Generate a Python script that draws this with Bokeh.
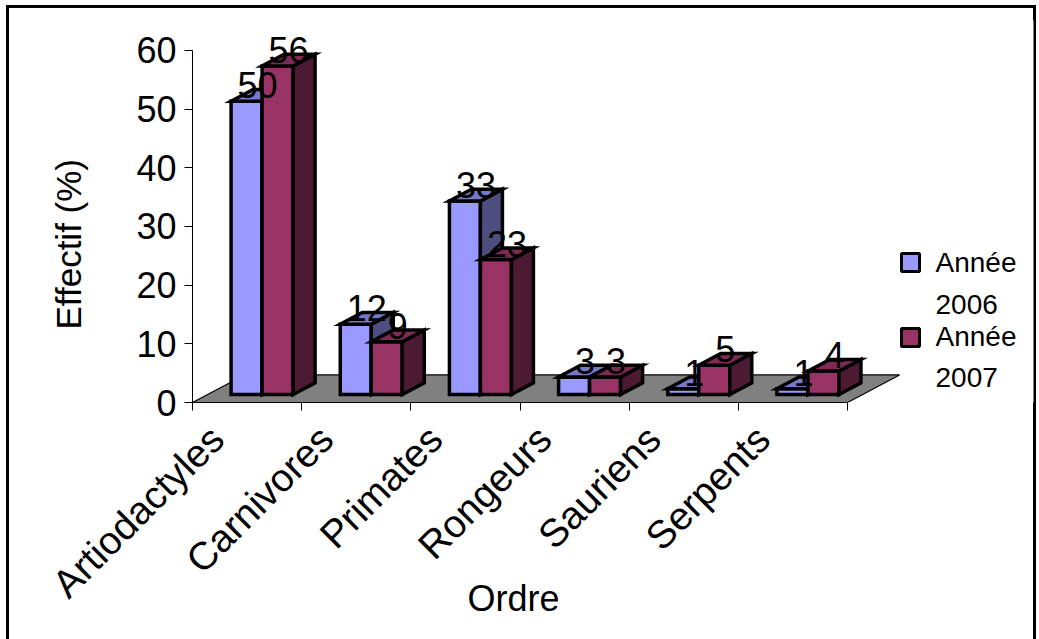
from bokeh.plotting import figure
from bokeh.models import Range1d, FixedTicker, Title
from bokeh.embed import file_html
from bokeh.resources import INLINE
from bokeh.core.properties import value

# Data
categories = ["Artiodactyles", "Carnivores", "Primates", "Rongeurs", "Sauriens", "Serpents"]
annee_2006 = [50, 12, 33, 3, 1, 1]
annee_2007 = [56, 9, 23, 3, 5, 4]
series_names = ["Année 2006", "Année 2007"]
y_ticks = [0, 10, 20, 30, 40, 50, 60]

# Colours: front / top / side face of each series
front_colors = ["#9999FF", "#993366"]
top_colors = ["#7777CC", "#7F2A55"]
side_colors = ["#4D4D80", "#4D1A33"]

FONT = "Liberation Sans"

# Layout (pixels)
W, H = 1039, 639
FRAME_L, FRAME_R, FRAME_T, FRAME_B = 192, 1033, 20, 402
PX_PER_CAT = 109.17      # one category slot
PX_PER_UNIT = 5.867      # one percent on the value axis

x_end = (FRAME_R - FRAME_L) / PX_PER_CAT
y_end = (FRAME_B - FRAME_T) / PX_PER_UNIT


def depth(px):
    """Oblique depth offset (px along the receding axis) in data units."""
    return px / PX_PER_CAT, 0.53 * px / PX_PER_UNIT


BAR_W = 31 / PX_PER_CAT
FLOOR_D = 52
BAR_FRONT_D = 15
BAR_BACK_D = 37
LABEL_SHIFT = 0.275      # rotated category labels end left of the slot centre

# Chart border drawn behind a transparent canvas margin
border_bg = ("linear-gradient(#000,#000) 6px 5px / 3px 100% no-repeat, "
             "linear-gradient(#000,#000) 6px 5px / 1030px 3px no-repeat, "
             "linear-gradient(#000,#000) 1033px 5px / 3px 100% no-repeat, #fff")

p = figure(width=W, height=H, output_backend="svg", toolbar_location=None,
           x_range=Range1d(0, x_end), y_range=Range1d(0, y_end),
           min_border_left=FRAME_L, min_border_right=W - FRAME_R,
           min_border_top=FRAME_T, min_border_bottom=H - FRAME_B,
           background_fill_color="white", border_fill_color=None,
           outline_line_color=None)
p.styles = {"background": border_bg}
p.xgrid.visible = False
p.ygrid.visible = False

# Floor
fdx, fdy = depth(FLOOR_D)
n = len(categories)
p.patch([0, n, n + fdx, fdx], [0, 0, fdy, fdy],
        fill_color="#808080", line_color="black", line_width=1.2)

# Bars as oblique boxes
fx, fy = depth(BAR_FRONT_D)
bx, by = depth(BAR_BACK_D - BAR_FRONT_D)
xs, ys, fills = [], [], []
lab_x, lab_y, lab_t = [], [], []
for i in range(n):
    for s, vals in enumerate([annee_2006, annee_2007]):
        v = vals[i]
        x0 = i + 0.5 - BAR_W + s * BAR_W + fx
        x1 = x0 + BAR_W
        y0 = fy
        y1 = fy + v
        xs.append([x0, x1, x1, x0]); ys.append([y0, y0, y1, y1]); fills.append(front_colors[s])
        xs.append([x1, x1 + bx, x1 + bx, x1]); ys.append([y0, y0 + by, y1 + by, y1]); fills.append(side_colors[s])
        xs.append([x0, x1, x1 + bx, x0 + bx]); ys.append([y1, y1, y1 + by, y1 + by]); fills.append(top_colors[s])
        lab_x.append((x0 + x1) / 2 + bx / 2)
        lab_y.append(y1)
        lab_t.append(str(v))

p.patches(xs, ys, fill_color=fills, line_color="black", line_width=3.5, line_join="miter")

p.text(lab_x, lab_y, text=lab_t, text_font=value(FONT), text_font_size="36px",
       text_align="center", text_baseline="bottom", text_color="black", y_offset=-3)

# Legend
leg_x = (910 - FRAME_L) / PX_PER_CAT
leg_text_x = (935 - FRAME_L) / PX_PER_CAT
leg_sq_y = [262, 337]
leg_base = [(277, 313), (351, 386)]
for s, name in enumerate(series_names):
    p.rect([leg_x], [(FRAME_B - leg_sq_y[s]) / PX_PER_UNIT], width=18, height=18,
           width_units="screen", height_units="screen",
           fill_color=front_colors[s], line_color="black", line_width=3)
    for line, base in zip(name.split(" "), leg_base[s]):
        p.text([leg_text_x], [(FRAME_B - base) / PX_PER_UNIT], text=[line],
               text_font=value(FONT), text_font_size="28px",
               text_baseline="bottom", text_align="left", text_color="black")

# Value axis
ya = p.yaxis[0]
ya.ticker = FixedTicker(ticks=y_ticks)
ya.bounds = (0, 60)
ya.major_label_text_font = FONT
ya.major_label_text_font_size = "36px"
ya.major_label_text_color = "black"
ya.major_label_standoff = 8
ya.major_tick_out = 8
ya.major_tick_in = 0
ya.minor_tick_line_color = None
ya.axis_line_color = "black"
ya.major_tick_line_color = "black"
p.add_layout(Title(text="Effectif (%)", align="left", offset=73, vertical_align="bottom",
                   standoff=91, text_font=FONT, text_font_size="35px",
                   text_font_style="normal", text_color="black"), "left")

# Category axis: labels hang from the slot, tick marks at slot boundaries
xa = p.xaxis[0]
label_ticks = [round(i + 0.5 - LABEL_SHIFT, 4) for i in range(n)]
xa.ticker = FixedTicker(ticks=label_ticks, minor_ticks=list(range(n + 1)))
xa.major_label_overrides = {t: name for t, name in zip(label_ticks, categories)}
xa.bounds = (0, n)
xa.major_label_orientation = 0.785398
xa.major_label_text_font = FONT
xa.major_label_text_font_size = "39px"
xa.major_label_text_color = "black"
xa.major_label_standoff = 22
xa.major_tick_out = 0
xa.major_tick_in = 0
xa.minor_tick_out = 8
xa.minor_tick_in = 0
xa.minor_tick_line_color = "black"
xa.axis_line_color = "black"
p.add_layout(Title(text="Ordre", align="left", offset=275, vertical_align="top",
                   standoff=-92, text_font=FONT, text_font_size="36px",
                   text_font_style="normal", text_color="black"), "below")

open("out.html", "w").write(file_html(p, INLINE))
